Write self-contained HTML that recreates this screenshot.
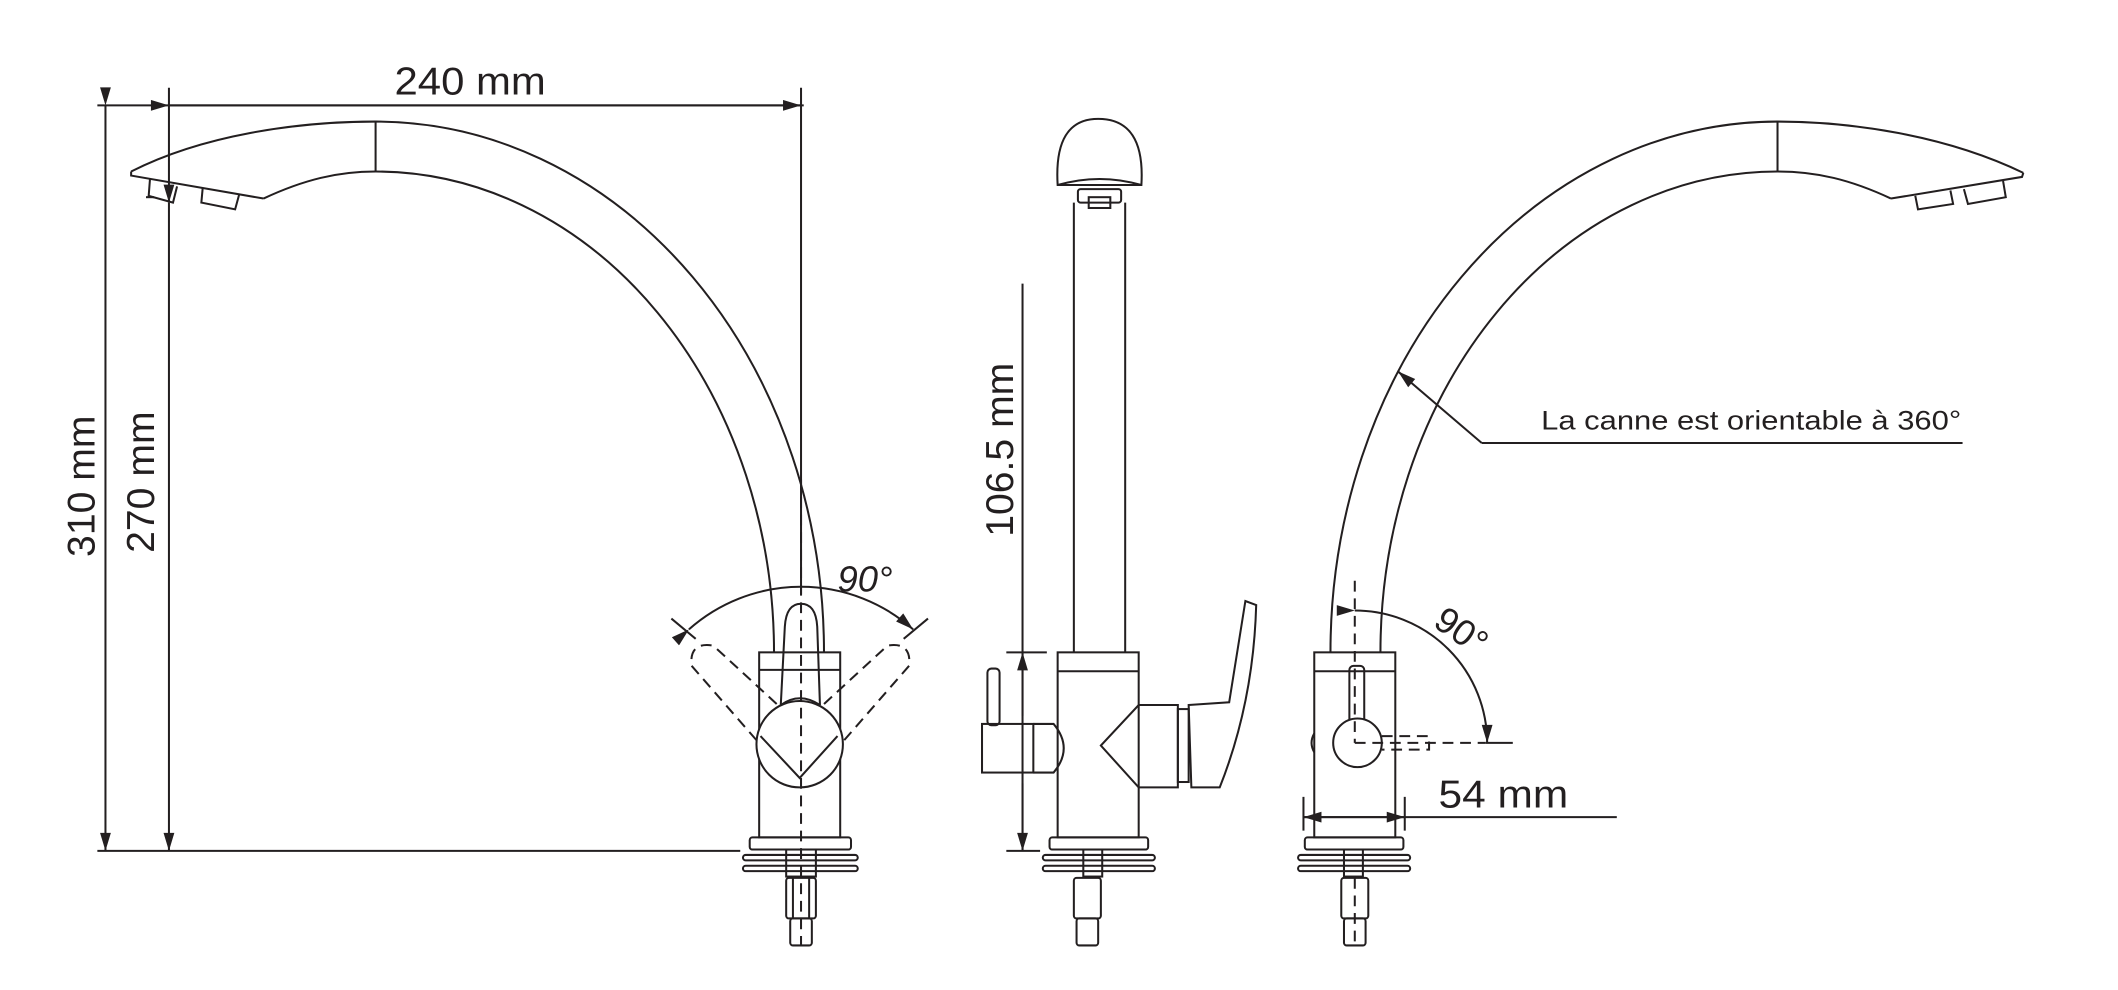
<!DOCTYPE html>
<html><head><meta charset="utf-8"><style>
html,body{margin:0;padding:0;background:#fff;}
svg{display:block}
text{font-family:"Liberation Sans",sans-serif;fill:#231f20}
</style></head><body>
<svg width="2118" height="990" viewBox="0 0 1568 733" xmlns="http://www.w3.org/2000/svg">
<defs>
<marker id="a" viewBox="0 0 10 6" refX="10" refY="3" markerWidth="16" markerHeight="8" markerUnits="userSpaceOnUse" orient="auto"><path d="M0,0L10,3L0,6z" fill="#231f20"/></marker>
</defs>
<g fill="none" stroke="#231f20" stroke-width="1.5">
<!-- LEFT VIEW dimensions -->
<line x1="72" y1="78" x2="595" y2="78"/>
<line x1="72" y1="630" x2="548" y2="630"/>
<line x1="78" y1="78" x2="78" y2="630" marker-start="url(#a)" marker-end="url(#a)"/>
<line x1="125" y1="65" x2="125" y2="150"/>
<line x1="125" y1="78" x2="593" y2="78" marker-start="url(#a)" marker-end="url(#a)"/>
<line x1="593" y1="65" x2="593" y2="440"/>
<line x1="125" y1="150" x2="125" y2="630" marker-start="url(#a)" marker-end="url(#a)"/>
<!-- left spout -->
<path d="M97,127 C150,100 220,90 278,90 A332,393 0 0 1 610,483"/>
<path d="M195,147 C225,133 250,127 278,127 A295,356 0 0 1 573,483"/>
<path d="M97,127 L97,130 L195,147"/>
<line x1="278" y1="90" x2="278" y2="127"/>
<path d="M111,132 L110,145 L128,150 L131,138"/><path d="M150,139 L149,150 L174,155 L177,144"/>
<path d="M108,146 L114,146"/>
<!-- left body -->
<rect x="562" y="483" width="60" height="137"/>
<line x1="562" y1="496" x2="622" y2="496"/>
<rect x="555" y="620" width="75" height="9" rx="2"/>
<rect x="550" y="633" width="85" height="4" rx="2"/>
<rect x="550" y="641" width="85" height="4" rx="2"/>
<rect x="582" y="629" width="22" height="20"/>
<rect x="582" y="650" width="22" height="30" rx="2"/>
<line x1="587" y1="650" x2="587" y2="680"/><line x1="599" y1="650" x2="599" y2="680"/>
<rect x="585" y="680" width="16" height="20" rx="2"/>
<circle cx="592" cy="551" r="32" fill="#fff"/>
<path d="M578,522 L581,464 Q582,447 593,447 Q604,447 605,464 L607,522"/>
<path d="M578,522 Q592,512 607,522"/>
<path d="M563,545 L592,576 L620,545"/>
<g stroke-dasharray="8,5">
<line x1="593" y1="355" x2="593" y2="700"/>
<path d="M560,548 L512,493 Q510,475 528,478 L578,524"/>
<path d="M625,548 L673,493 Q675,475 657,478 L607,524"/>
</g>
<path d="M510,466 A125,125 0 0 1 676,466" marker-start="url(#a)" marker-end="url(#a)"/>
<line x1="497" y1="458" x2="515" y2="473"/><line x1="687" y1="458" x2="669" y2="473"/>
<!-- MIDDLE VIEW -->
<path d="M783,137 Q780,88 813,88 Q848,88 845,137 Z"/>
<path d="M783,137 Q814,128 845,137"/>
<rect x="798" y="140" width="32" height="10" rx="2"/>
<rect x="806" y="146" width="16" height="8"/>
<line x1="795" y1="150" x2="795" y2="483"/><line x1="833" y1="150" x2="833" y2="483"/>
<rect x="783" y="483" width="60" height="137"/>
<line x1="783" y1="497" x2="843" y2="497"/>
<rect x="727" y="536" width="38" height="36"/>
<rect x="731" y="495" width="9" height="42" rx="3"/>
<path d="M765,536 L780,536 Q795,554 780,572 L765,572"/>
<path d="M843,522 L872,522 L872,583 L843,583 L815,552 Z"/>
<rect x="872" y="525" width="8" height="54"/>
<path d="M880,522 L910,520 L922,445 L930,448 Q928,520 903,583 L882,583 Z"/>
<rect x="777" y="620" width="73" height="9" rx="2"/>
<rect x="772" y="633" width="83" height="4" rx="2"/>
<rect x="772" y="641" width="83" height="4" rx="2"/>
<rect x="802" y="629" width="14" height="20"/>
<rect x="795" y="650" width="20" height="30" rx="2"/>
<rect x="797" y="680" width="16" height="20" rx="2"/>
<line x1="757" y1="210" x2="757" y2="630"/>
<line x1="757" y1="530" x2="757" y2="483" marker-end="url(#a)"/>
<line x1="757" y1="580" x2="757" y2="630" marker-end="url(#a)"/>
<line x1="745" y1="483" x2="775" y2="483"/><line x1="745" y1="630" x2="770" y2="630"/>
<!-- RIGHT VIEW -->
<path d="M1498,128 C1440,100 1370,90 1316,90 A331,393 0 0 0 985,483"/>
<path d="M1400,147 C1370,133 1345,127 1316,127 A294,356 0 0 0 1022,483"/>
<path d="M1498,128 L1497,131 L1400,147"/>
<line x1="1316" y1="90" x2="1316" y2="127"/>
<path d="M1483,134 L1485,146 L1457,151 L1454,140"/><path d="M1444,141 L1446,151 L1420,155 L1418,145"/>
<rect x="973" y="483" width="60" height="137"/>
<line x1="973" y1="497" x2="1033" y2="497"/>
<rect x="999" y="493" width="11" height="57" rx="3"/>
<circle cx="1005" cy="550" r="18" fill="#fff"/>
<path d="M973,543 Q969,550 973,557"/>
<rect x="966" y="620" width="73" height="9" rx="2"/>
<rect x="961" y="633" width="83" height="4" rx="2"/>
<rect x="961" y="641" width="83" height="4" rx="2"/>
<rect x="995" y="629" width="14" height="20"/>
<rect x="993" y="650" width="20" height="30" rx="2"/>
<rect x="995" y="680" width="16" height="20" rx="2"/>
<g stroke-dasharray="8,5">
<line x1="1003" y1="430" x2="1003" y2="550"/>
<line x1="1003" y1="550" x2="1100" y2="550"/>
<path d="M1023,545 L1058,545 L1058,555 L1023,555"/>
</g>
<line x1="1003" y1="650" x2="1003" y2="700" stroke-dasharray="8,5"/>
<path d="M1003,452 A98,98 0 0 1 1101,550" marker-start="url(#a)" marker-end="url(#a)"/>
<line x1="1100" y1="550" x2="1120" y2="550"/>
<line x1="965" y1="605" x2="1197" y2="605"/>
<line x1="1000" y1="605" x2="965" y2="605" marker-end="url(#a)"/>
<line x1="1000" y1="605" x2="1040" y2="605" marker-end="url(#a)"/>
<line x1="965" y1="590" x2="965" y2="615"/><line x1="1040" y1="590" x2="1040" y2="615"/>
<line x1="1097" y1="328" x2="1035" y2="275" marker-end="url(#a)"/>
<line x1="1097" y1="328" x2="1453" y2="328"/>
</g>
<text x="292" y="70" font-size="29" textLength="112" lengthAdjust="spacingAndGlyphs">240 mm</text>
<text transform="translate(70,360) rotate(-90)" font-size="29" text-anchor="middle">310 mm</text>
<text transform="translate(114,357) rotate(-90)" font-size="29" text-anchor="middle">270 mm</text>
<text transform="translate(750,333) rotate(-90)" font-size="29" text-anchor="middle">106.5 mm</text>
<text x="620" y="438" font-size="27" font-style="italic">90°</text>
<text transform="translate(1060,463) rotate(35)" font-size="27">90°</text>
<text x="1065" y="598" font-size="29" textLength="96" lengthAdjust="spacingAndGlyphs">54 mm</text>
<text x="1141" y="318" font-size="20" textLength="311" lengthAdjust="spacingAndGlyphs">La canne est orientable à 360°</text>
</svg>
</body></html>
